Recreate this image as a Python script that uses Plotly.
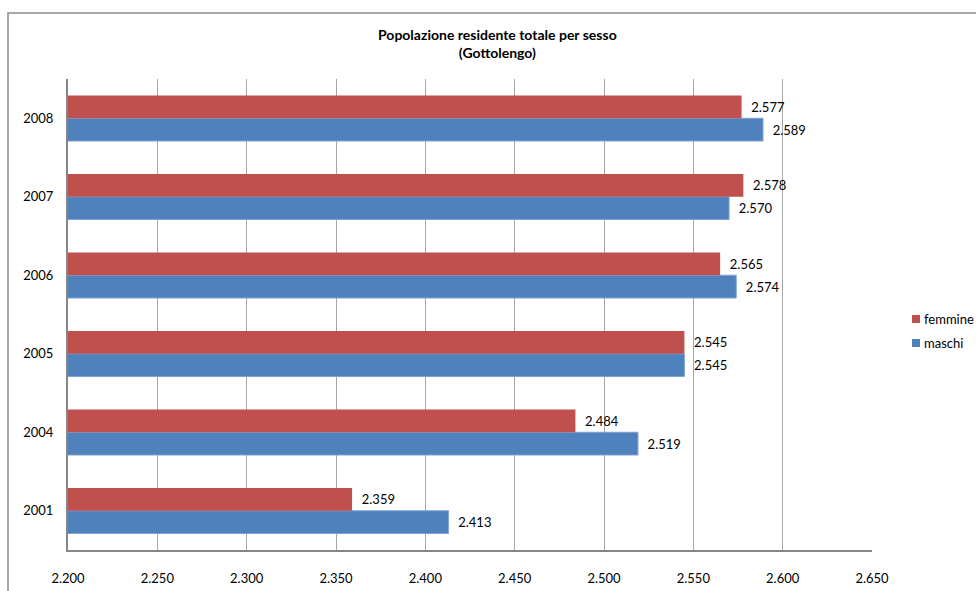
import plotly.graph_objects as go

anni = ["2001", "2004", "2005", "2006", "2007", "2008"]
femmine = [2359, 2484, 2545, 2565, 2578, 2577]
maschi = [2413, 2519, 2545, 2574, 2570, 2589]
tick_vals = [2200, 2250, 2300, 2350, 2400, 2450, 2500, 2550, 2600, 2650]
tick_text = ["2.200", "2.250", "2.300", "2.350", "2.400", "2.450", "2.500", "2.550", "2.600", "2.650"]
legend_items = [("femmine", "#C0504D"), ("maschi", "#4F81BD")]

def fmt(v):
    return "  " + f"{v:,}".replace(",", ".")

FONT = "Lato"
FS = 13

L, R, T, B = 68, 104, 79, 41
W, H = 976, 591
PW, PH = W - L - R, H - T - B

def px(x):
    return (x - L) / PW

def py(y):
    return (H - B - y) / PH

fig = go.Figure()
fig.add_trace(go.Bar(
    y=anni, x=maschi, orientation="h", name="maschi",
    marker=dict(color="#4F81BD", line=dict(color="#7FA3D3", width=1)),
    text=[fmt(v) for v in maschi], textposition="outside",
    textfont=dict(size=FS, color="#000000", family=FONT), cliponaxis=False,
))
fig.add_trace(go.Bar(
    y=anni, x=femmine, orientation="h", name="femmine",
    marker=dict(color="#C0504D", line=dict(color="#C0504D", width=0)),
    text=[fmt(v) for v in femmine], textposition="outside",
    textfont=dict(size=FS, color="#000000", family=FONT), cliponaxis=False,
))

fig.update_layout(
    width=W, height=H,
    margin=dict(l=L, r=R, t=T, b=B),
    paper_bgcolor="white", plot_bgcolor="white",
    barmode="group", bargap=0.42, bargroupgap=0,
    font=dict(family=FONT, size=FS, color="#000000"),
    showlegend=False,
)
fig.update_xaxes(
    range=[2200, 2650], tickvals=tick_vals, ticktext=tick_text,
    showgrid=True, gridcolor="#A6A6A6", gridwidth=1,
    showline=True, linecolor="#868686", linewidth=2,
    ticks="", ticklabelstandoff=15, zeroline=False, automargin=False,
    tickfont=dict(size=FS, family=FONT),
)
fig.update_yaxes(
    type="category", categoryorder="array", categoryarray=anni,
    showgrid=False, showline=True, linecolor="#868686", linewidth=2,
    ticks="", ticklabelstandoff=10, automargin=False,
    tickfont=dict(size=FS, family=FONT),
)
fig.add_annotation(
    text="<b>Popolazione residente totale per sesso</b><br><b>(Gottolengo)</b>",
    xref="paper", yref="paper", x=px(497), y=py(43),
    xanchor="center", yanchor="middle", showarrow=False,
    font=dict(size=14, family=FONT, color="#000000"), align="center",
)
# manual legend
for i, (name, col) in enumerate(legend_items):
    yc = 319 + 24 * i
    fig.add_shape(type="rect", xref="paper", yref="paper",
                  x0=px(912), x1=px(920), y0=py(yc + 4), y1=py(yc - 4),
                  fillcolor=col, line=dict(width=0))
    fig.add_annotation(text=name, xref="paper", yref="paper",
                       x=px(922), y=py(yc),
                       xanchor="left", yanchor="middle", showarrow=False,
                       font=dict(size=FS, family=FONT, color="#000000"))
fig.add_shape(type="rect", xref="paper", yref="paper",
              x0=px(8), x1=px(990), y0=py(600), y1=py(13),
              line=dict(color="#8C8C8C", width=1.5), layer="below")

fig.write_html("out.html")
